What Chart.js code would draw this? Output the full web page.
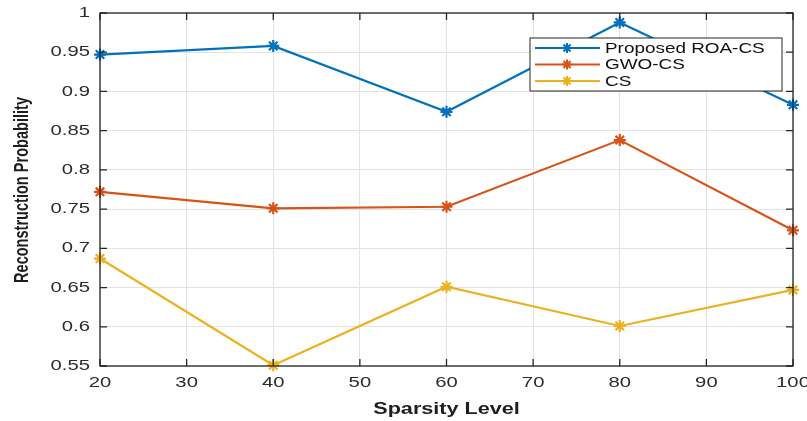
<!DOCTYPE html>
<html>
<head>
<meta charset="utf-8">
<script src="https://cdn.jsdelivr.net/npm/chart.js@4"></script>
<style>
  html, body { margin: 0; padding: 0; background: #fff; }
  #wrap { width: 807px; height: 421px; }
</style>
</head>
<body>
<div id="wrap"><canvas id="chartId" width="807" height="421"></canvas></div>
<script>
// data
var sparsity = [20, 40, 60, 80, 100];
var roaCS = [0.947, 0.958, 0.874, 0.988, 0.883];
var gwoCS = [0.772, 0.751, 0.753, 0.838, 0.723];
var plainCS = [0.687, 0.551, 0.651, 0.601, 0.647];
var seriesNames = ["Proposed ROA-CS", "GWO-CS", "CS"];
var xTicks = [20, 30, 40, 50, 60, 70, 80, 90, 100];
var yTicks = [0.55, 0.6, 0.65, 0.7, 0.75, 0.8, 0.85, 0.9, 0.95, 1];
var xTitle = 'Sparsity Level';
var yTitle = 'Reconstruction Probability';

var colors = ['#0072BD', '#D95319', '#EDB120'];
var FONT = '"Liberation Sans", Arial, sans-serif';
var WIDE = 1.35; // the figure's text is stretched sideways

function pts(vals) {
    return sparsity.map(function (x, i) { return { x: x, y: vals[i] }; });
}

// text with a horizontal stretch
function wideText(ctx, txt, x, y, align) {
    ctx.save();
    ctx.translate(x, y);
    ctx.scale(WIDE, 1);
    ctx.textAlign = align;
    ctx.textBaseline = 'middle';
    ctx.fillText(txt, 0, 0);
    ctx.restore();
}

function fmtY(v) { return String(Number(v.toFixed(2))); }

// box around plot, inward ticks, labels, legend inside the axes
var boxPlugin = {
    id: 'boxPlugin',
    afterDraw: function (chart) {
        var ctx = chart.ctx, a = chart.chartArea;
        var xs = chart.scales.x, ys = chart.scales.y;
        ctx.save();
        ctx.strokeStyle = '#262626';
        ctx.lineWidth = 1.3;
        ctx.strokeRect(a.left, a.top, a.right - a.left, a.bottom - a.top);
        ctx.beginPath();
        xTicks.forEach(function (v) {
            var px = xs.getPixelForValue(v);
            ctx.moveTo(px, a.bottom); ctx.lineTo(px, a.bottom - 7);
            ctx.moveTo(px, a.top); ctx.lineTo(px, a.top + 7);
        });
        yTicks.forEach(function (v) {
            var py = ys.getPixelForValue(v);
            ctx.moveTo(a.left, py); ctx.lineTo(a.left + 7, py);
            ctx.moveTo(a.right, py); ctx.lineTo(a.right - 7, py);
        });
        ctx.stroke();

        // tick labels
        ctx.fillStyle = '#2b2b2b';
        ctx.font = '15px ' + FONT;
        xTicks.forEach(function (v) {
            wideText(ctx, String(v), xs.getPixelForValue(v), a.bottom + 17, 'center');
        });
        yTicks.forEach(function (v) {
            wideText(ctx, fmtY(v), a.left - 10, ys.getPixelForValue(v), 'right');
        });

        // axis titles
        ctx.fillStyle = '#1e1e1e';
        ctx.font = 'bold 16px ' + FONT;
        wideText(ctx, xTitle, (a.left + a.right) / 2, 410, 'center');
        ctx.save();
        ctx.translate(22, 190);
        ctx.rotate(-Math.PI / 2);
        ctx.scale(0.97, WIDE);
        ctx.textAlign = 'center';
        ctx.textBaseline = 'middle';
        ctx.font = 'bold 15px ' + FONT;
        ctx.fillText(yTitle, 0, 0);
        ctx.restore();

        // legend
        var lx = 530, ly = 38, lw = 252, lh = 53;
        ctx.fillStyle = '#fff';
        ctx.fillRect(lx, ly, lw, lh);
        ctx.strokeStyle = '#262626';
        ctx.lineWidth = 1;
        ctx.strokeRect(lx, ly, lw, lh);
        ctx.font = '14px ' + FONT;
        seriesNames.forEach(function (name, i) {
            var yy = ly + 10 + i * 16.5;
            ctx.strokeStyle = colors[i];
            ctx.lineWidth = 2;
            ctx.beginPath();
            ctx.moveTo(lx + 5, yy); ctx.lineTo(lx + 70, yy);
            ctx.stroke();
            Chart.helpers.drawPoint(ctx, { pointStyle: 'star', radius: 5, borderWidth: 2 }, lx + 37, yy);
            ctx.fillStyle = '#111';
            wideText(ctx, name, lx + 75, yy + 1, 'left');
        });
        ctx.restore();
    }
};

var chrt = document.getElementById("chartId").getContext("2d");
var datasets = [roaCS, gwoCS, plainCS].map(function (vals, i) {
    return {
        label: seriesNames[i],
        data: pts(vals),
        borderColor: colors[i],
        backgroundColor: colors[i],
        borderWidth: 2.2,
        pointStyle: 'star',
        pointRadius: 6,
        pointBorderWidth: 2.2,
        clip: false
    };
});

var chartId = new Chart(chrt, {
    type: 'line',
    data: { datasets: datasets },
    options: {
        responsive: false,
        animation: false,
        layout: { padding: { top: 13, right: 14, left: 0, bottom: 0 } },
        plugins: {
            legend: { display: false },
            tooltip: { enabled: false }
        },
        scales: {
            x: {
                type: 'linear',
                min: 20,
                max: 100,
                afterBuildTicks: function (s) { s.ticks = xTicks.map(function (v) { return { value: v }; }); },
                afterFit: function (s) { s.height = 55; },
                grid: { color: '#e3e3e3', tickLength: 0, drawTicks: false },
                border: { display: false },
                ticks: { display: false }
            },
            y: {
                min: 0.55,
                max: 1,
                afterBuildTicks: function (s) { s.ticks = yTicks.map(function (v) { return { value: v }; }); },
                afterFit: function (s) { s.width = 100; },
                grid: { color: '#e3e3e3', tickLength: 0, drawTicks: false },
                border: { display: false },
                ticks: { display: false }
            }
        }
    },
    plugins: [boxPlugin]
});
</script>
</body>
</html>
